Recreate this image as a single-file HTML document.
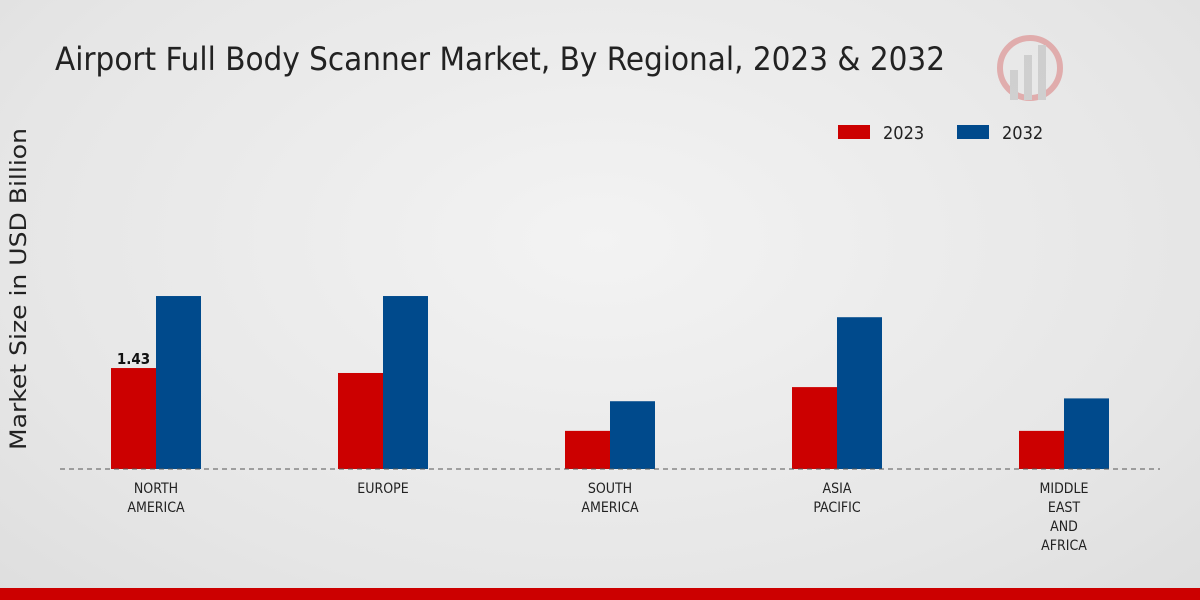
<!DOCTYPE html>
<html><head><meta charset="utf-8"><style>
html,body{margin:0;width:1200px;height:600px;overflow:hidden}
body{background:radial-gradient(ellipse at 50% 40%,#f3f3f3 0%,#e6e6e6 70%,#dedede 100%);font-family:"DejaVu Sans Condensed","DejaVu Sans","Liberation Sans",sans-serif}
svg{display:block}
</style></head><body>
<svg width="1200" height="600" xmlns="http://www.w3.org/2000/svg">
<text x="55" y="70" font-size="32" fill="#222" textLength="890" lengthAdjust="spacingAndGlyphs">Airport Full Body Scanner Market, By Regional, 2023 &amp; 2032</text>
<g opacity="0.25">
<circle cx="1030" cy="68" r="30" fill="none" stroke="#c00" stroke-width="6"/>
<rect x="1010" y="70" width="8" height="30" fill="#888"/><rect x="1024" y="55" width="8" height="45" fill="#888"/><rect x="1038" y="45" width="8" height="55" fill="#888"/>
</g>
<text transform="translate(26,289) rotate(-90)" text-anchor="middle" font-size="22" fill="#222" font-family="DejaVu Sans, sans-serif" textLength="322" lengthAdjust="spacingAndGlyphs">Market Size in USD Billion</text>
<g>
<rect x="838" y="125" width="32" height="14" fill="#cc0000"/>
<text x="883" y="139" font-size="18" fill="#222">2023</text>
<rect x="957" y="125" width="32" height="14" fill="#004a8c"/>
<text x="1002" y="139" font-size="18" fill="#222">2032</text>
</g>
<g id="plot"></g>
<line x1="60" y1="469" x2="1160" y2="469" stroke="#555" stroke-dasharray="5,4"/>
<rect x="0" y="588" width="1200" height="12" fill="#cc0000"/>
</svg>
<script>
const categories=[["NORTH","AMERICA"],["EUROPE"],["SOUTH","AMERICA"],["ASIA","PACIFIC"],["MIDDLE","EAST","AND","AFRICA"]];
const values2023=[1.43,1.36,0.54,1.16,0.54];
const values2032=[2.45,2.45,0.96,2.15,1.0];
const labelShown=["1.43",null,null,null,null];
const base=469,scale=70.6,x0=156,step=227,bw=45;
const y=v=>base-v*scale;
const g=document.getElementById('plot');
const NS='http://www.w3.org/2000/svg';
function mk(t,a){const e=document.createElementNS(NS,t);for(const k in a)e.setAttribute(k,a[k]);g.appendChild(e);return e;}
categories.forEach((c,i)=>{
 const cx=x0+i*step;
 let r=mk('rect',{x:cx-bw,y:y(values2023[i]),width:bw,height:values2023[i]*scale,fill:'#cc0000'});
 
 
 let b=mk('rect',{x:cx,y:y(values2032[i]),width:bw,height:values2032[i]*scale,fill:'#004a8c'});
 
 
 if(labelShown[i]){let t=mk('text',{x:cx-bw/2,y:y(values2023[i])-4,'text-anchor':'middle','font-size':'15','font-weight':'bold',fill:'#111'});t.textContent=labelShown[i];
 
 }
 c.forEach((line,j)=>{let t=mk('text',{x:cx,y:493+j*19,'text-anchor':'middle','font-size':'14',fill:'#222'});t.textContent=line;
 
 });
});
</script>
</body></html>
